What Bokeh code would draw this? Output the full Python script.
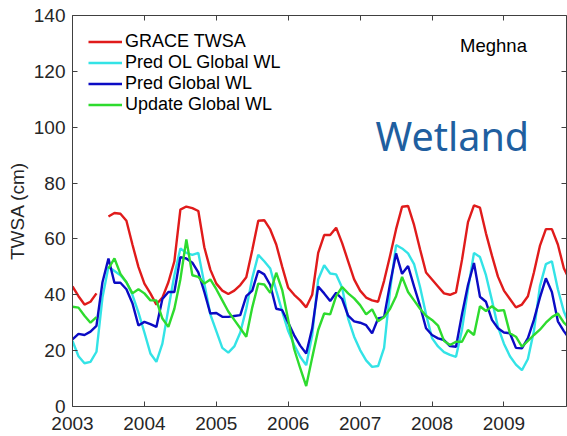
from bokeh.plotting import figure
from bokeh.models import Range1d, LinearAxis, FixedTicker, Label
from bokeh.embed import file_html
from bokeh.resources import INLINE

nan = float("nan")

years = [2003, 2004, 2005, 2006, 2007, 2008, 2009]
y_ticks = [0, 20, 40, 60, 80, 100, 120, 140]
# monthly time axis (Jan 2003 .. Dec 2009) in decimal years
t = [y + m / 12 for y in years for m in range(12)]

grace_twsa = [
    43, 39.5, 36.5, 37.5, 40.5, nan, 68, 69.3, 69, 66.5, 58, 50,
    44, 40.5, 36.5, 39, 44.5, 52, 70.5, 71.6, 71, 70, 57, 49,
    44, 41.5, 40.3, 41.5, 43.5, 46.3, 56, 66.5, 66.7, 63.4, 58, 50,
    42.5, 40, 38, 35.5, 40, 55, 61.4, 61.4, 64, 58.5, 52, 45.5,
    41.5, 39, 38, 37.5, 45, 54, 63.5, 71.5, 71.8, 65, 56.3, 48,
    45.5, 43, 40.5, 40, 40.9, 52.5, 66, 72, 71.2, 62, 54, 46.5,
    41.5, 38.5, 35.5, 36.5, 39.5, 48, 57.5, 63.5, 63.5, 58, 49.5, 45,
]
pred_ol_global_wl = [
    23.5, 18, 15.5, 16, 19.6, 39, 50, 48.5, 47, 44.5, 40, 33.7,
    26.5, 19, 16, 22.5, 35, 47, 56.6, 55, 54.3, 55, 44, 33,
    27, 21, 19.3, 21.5, 26.5, 35, 46, 54.3, 52, 49.4, 41.5, 34,
    27, 22, 17.8, 14.8, 25.5, 45.5, 50.6, 47.6, 47.3, 42.5, 31.5, 25,
    20.2, 16.5, 14.2, 14.5, 21, 41.7, 57.8, 56.6, 54.8, 51, 42.8, 33,
    24.5, 21.5, 19.5, 18.5, 17.8, 27.5, 42, 55, 53.5, 47, 38, 28.5,
    22.5, 18, 15, 13, 17, 27, 43, 51, 52, 42, 34, 29,
]
pred_global_wl = [
    24, 26, 25.6, 26.8, 28.9, 44.5, 53, 44.3, 44.3, 42, 37, 29,
    30.3, 29.5, 28.5, 38.5, 41, 41, 53.5, 53, 51.5, 48, 41, 33.3,
    33.5, 32.1, 32.1, 32.4, 32.7, 39.5, 41.5, 48.6, 47.3, 43.5, 35, 34.5,
    30, 25.5, 21.8, 19, 28, 43, 40.5, 37.8, 40.7, 38.5, 32.5, 30.5,
    30, 29.1, 26.2, 31.5, 32, 44, 54.8, 47.5, 50.3, 43, 36, 28,
    25.6, 24.4, 23.8, 21.6, 21.4, 33, 43.5, 51.4, 39.3, 37.5, 31, 28,
    26.5, 26.2, 21, 20.8, 24.5, 31, 39, 45.9, 41, 30.5, 27, 24,
]
update_global_wl = [
    35.7, 35.4, 32.5, 30, 32, nan, 49.4, 53, 47.5, 44.5, 40.5, 42,
    40.5, 38, 38, 31.5, 28.5, 35, 45.5, 59.8, 47, 46.4, 44, 45.5,
    42, 38, 34, 31, 28, 25, 35.5, 44, 43.7, 40.7, 47.9, 41.7,
    31, 20.5, 13.7, 7.3, 17.5, 27.4, 33.3, 33, 39.5, 42.8, 40.5, 38.7,
    36.3, 33, 34.8, 30.5, 32, 35, 39.5, 46.4, 41, 38, 35, 32.5,
    31, 29, 23.5, 22, 23.2, 23.2, 27.4, 25.6, 35.9, 34.2, 35.9, 34.3,
    34.5, 26.2, 25, 21.4, 23.5, 25.6, 27.5, 30, 32, 33.3, 30, 28,
]

series = [
    ("GRACE TWSA", grace_twsa, "#E01B1B"),
    ("Pred OL Global WL", pred_ol_global_wl, "#33E3E6"),
    ("Pred Global WL", pred_global_wl, "#0B0BC4"),
    ("Update Global WL", update_global_wl, "#2EDB2E"),
]

FONT = "Liberation Sans"
AX = "#404040"
TXT = "#262626"

p = figure(
    width=567, height=436,
    output_backend="svg", toolbar_location=None,
    x_range=Range1d(2003, 2009.87), y_range=Range1d(0, 140),
    min_border_left=72, min_border_right=1, min_border_top=15, min_border_bottom=30,
)
p.background_fill_color = "white"
p.border_fill_color = "white"
p.outline_line_color = None
p.grid.visible = False

for name, vals, col in series:
    p.line(t, vals, line_color=col, line_width=2.4, legend_label=name)

def style_axis(ax, show_labels=True):
    ax.axis_line_color = AX
    ax.major_tick_line_color = AX
    ax.minor_tick_line_color = None
    ax.major_tick_in = 5
    ax.major_tick_out = 0
    ax.major_label_text_font = FONT
    ax.major_label_text_color = TXT
    ax.major_label_text_font_size = "19px"
    if not show_labels:
        ax.major_label_standoff = 0
        ax.major_label_overrides = {v: "" for v in ax.ticker.ticks}

xa = p.xaxis[0]
xa.ticker = FixedTicker(ticks=years)
style_axis(xa)
xa.major_label_standoff = 10

ya = p.yaxis[0]
ya.ticker = FixedTicker(ticks=y_ticks)
style_axis(ya)
ya.major_label_standoff = 7
ya.axis_label = "TWSA (cm)"
ya.axis_label_text_font = FONT
ya.axis_label_text_font_size = "19px"
ya.axis_label_text_font_style = "normal"
ya.axis_label_text_color = TXT
ya.axis_label_standoff = 3

top = LinearAxis(ticker=FixedTicker(ticks=years))
style_axis(top, False)
p.add_layout(top, "above")
right = LinearAxis(ticker=FixedTicker(ticks=y_ticks))
style_axis(right, False)
p.add_layout(right, "right")

lg = p.legend[0]
lg.location = "top_left"
lg.border_line_color = None
lg.background_fill_alpha = 0
lg.label_text_font = FONT
lg.label_text_font_size = "18px"
lg.label_text_color = "black"
lg.glyph_width = 34
lg.glyph_height = 21
lg.label_height = 21
lg.spacing = 0
lg.padding = 0
lg.margin = 16
lg.label_standoff = 3

p.add_layout(Label(x=2009.32, y=129.3, text="Meghna", text_align="right",
                   text_baseline="middle", text_font=FONT,
                   text_font_size="18.5px", text_color="black"))
p.add_layout(Label(x=2009.35, y=97.0, text="Wetland", text_align="right",
                   text_baseline="middle", text_font="Noto Sans",
                   text_font_size="39.5px", text_color="#1F5FA0"))

open("out.html", "w").write(file_html(p, INLINE))
